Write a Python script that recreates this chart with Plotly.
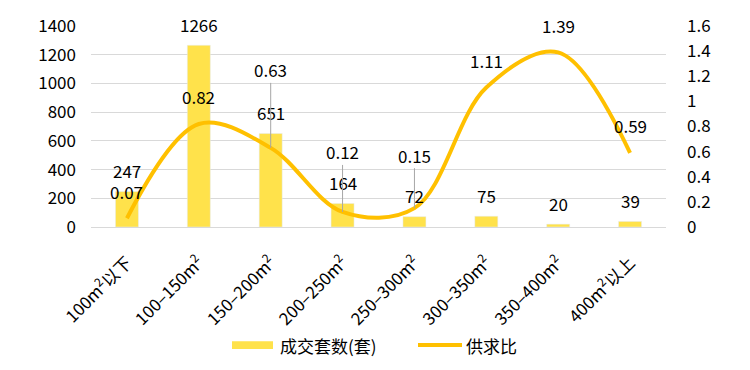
import plotly.graph_objects as go

categories = ["100m<sup>2</sup>以下", "100–150m<sup>2</sup>", "150–200m<sup>2</sup>", "200–250m<sup>2</sup>",
              "250–300m<sup>2</sup>", "300–350m<sup>2</sup>", "350–400m<sup>2</sup>", "400m<sup>2</sup>以上"]
deals = [247, 1266, 651, 164, 72, 75, 20, 39]
ratio = [0.07, 0.82, 0.63, 0.12, 0.15, 1.11, 1.39, 0.59]
left_ticks = [0, 200, 400, 600, 800, 1000, 1200, 1400]
right_ticks = [0, 0.2, 0.4, 0.6, 0.8, 1, 1.2, 1.4, 1.6]
right_tick_text = ["0", "0.2", "0.4", "0.6", "0.8", "1", "1.2", "1.4", "1.6"]
series_names = ["成交套数(套)", "供求比"]
# label leader offsets (px) for crowded ratio labels
leader = {2: -78, 3: -60, 4: -53}

BAR = "#FFE24B"
LINE = "#FFC000"
FONT = "Noto Sans CJK SC"

fig = go.Figure()
fig.add_trace(go.Bar(x=categories, y=deals, name=series_names[0], marker_color=BAR,
                     width=0.32, yaxis="y", showlegend=False))
fig.add_trace(go.Scatter(x=categories, y=ratio, name=series_names[1], mode="lines",
                         line=dict(color=LINE, width=4, shape="spline", smoothing=1.0),
                         yaxis="y2", showlegend=False))

ann = []
for c, v in zip(categories, deals):
    ann.append(dict(x=c, y=v, xref="x", yref="y", text=str(v), showarrow=False,
                    yshift=21, font=dict(size=17, color="#000")))
for i, (c, v) in enumerate(zip(categories, ratio)):
    if i in leader:
        ann.append(dict(x=c, y=v, xref="x", yref="y2", text=f"{v:.2f}", showarrow=True,
                        arrowhead=0, arrowwidth=1, arrowcolor="#A6A6A6", ax=0, ay=leader[i],
                        font=dict(size=17, color="#000"), borderpad=0))
    else:
        ann.append(dict(x=c, y=v, xref="x", yref="y2", text=f"{v:.2f}", showarrow=False,
                        yshift=27, font=dict(size=17, color="#000")))

# custom legend (paper coordinates: plot spans 91..666 px horizontally, 21..227 px vertically)
def px(xp):
    return (xp - 91) / 575
def py(yp):
    return (227 - yp) / 206

shapes = [
    dict(type="rect", xref="paper", yref="paper", x0=px(232), x1=px(273), y0=py(352), y1=py(344),
         fillcolor=BAR, line=dict(width=0)),
    dict(type="line", xref="paper", yref="paper", x0=px(418), x1=px(462), y0=py(348), y1=py(348),
         line=dict(color=LINE, width=4)),
]
ann.append(dict(x=px(278), y=py(348), xref="paper", yref="paper", text=series_names[0],
                showarrow=False, xanchor="left", yanchor="middle", font=dict(size=17)))
ann.append(dict(x=px(464), y=py(348), xref="paper", yref="paper", text=series_names[1],
                showarrow=False, xanchor="left", yanchor="middle", font=dict(size=17)))

fig.update_layout(
    width=750, height=370,
    margin=dict(l=91, r=84, t=21, b=143),
    plot_bgcolor="white", paper_bgcolor="white",
    font=dict(family=FONT, size=16, color="#000"),
    showlegend=False,
    xaxis=dict(tickangle=-45, tickfont=dict(size=17), showline=True, linecolor="#D9D9D9",
               linewidth=1, ticks="", showgrid=False, ticklabelstandoff=18),
    yaxis=dict(range=[0, 1400], tickvals=left_ticks, showgrid=True, gridcolor="#D9D9D9",
               gridwidth=1, zeroline=False, ticks="", ticklabelstandoff=14,
               tickfont=dict(size=17)),
    yaxis2=dict(range=[0, 1.6], tickvals=right_ticks, ticktext=right_tick_text,
                overlaying="y", side="right", showgrid=False, zeroline=False, ticks="",
                ticklabelstandoff=20, tickfont=dict(size=17)),
    shapes=shapes,
    annotations=ann,
)

fig.write_html("out.html")
